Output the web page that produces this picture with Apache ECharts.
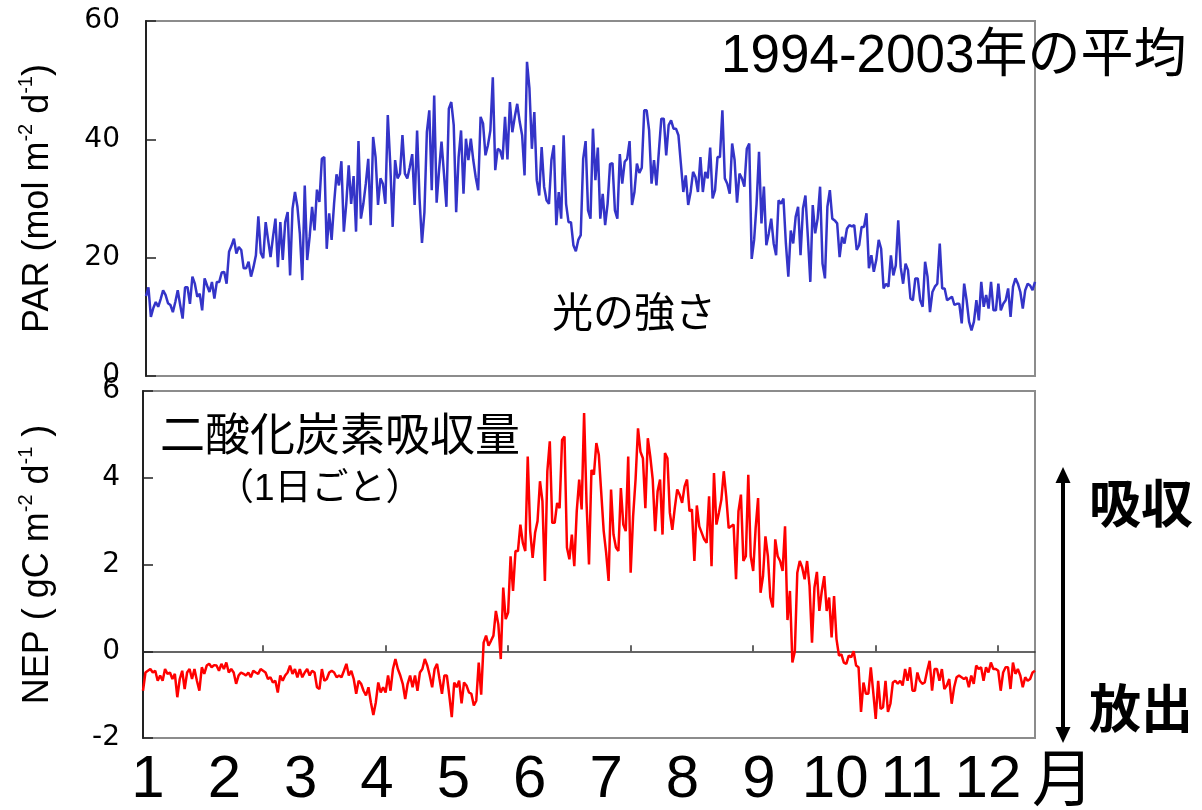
<!DOCTYPE html>
<html>
<head>
<meta charset="utf-8">
<script src="https://cdn.jsdelivr.net/npm/echarts@6/dist/echarts.min.js"></script>
<style>
  html, body { margin: 0; padding: 0; background: #fff; }
  #chart { width: 1202px; height: 810px; }
</style>
</head>
<body>
<div id="chart"></div>
<script>
// Daily photosynthetically active radiation, mean of 1994-2003 (mol m-2 d-1), day 1..365
const parDaily = [
  13.5, 15.0, 10.0, 11.5, 12.5, 11.7, 13.0, 14.5, 13.7, 12.3,
  12.0, 10.8, 12.5, 14.5, 12.0, 9.7, 15.0, 15.0, 12.2, 16.8,
  15.6, 13.4, 13.9, 11.1, 16.5, 15.3, 14.2, 15.9, 13.1, 15.9,
  15.9, 17.5, 17.6, 15.6, 21.0, 22.0, 23.2, 20.7, 21.8, 21.3,
  18.2, 18.2, 19.3, 16.8, 18.4, 20.4, 27.0, 20.8, 19.9, 26.0,
  23.0, 20.1, 23.5, 26.6, 18.4, 26.0, 19.6, 26.0, 27.7, 17.0,
  28.3, 31.1, 28.6, 24.0, 16.2, 32.2, 19.6, 23.5, 28.6, 24.6,
  31.5, 29.4, 36.7, 37.0, 21.5, 27.5, 23.0, 29.1, 34.1, 32.2,
  36.3, 24.4, 29.1, 35.6, 29.1, 33.8, 24.4, 39.7, 26.6, 29.1,
  32.5, 36.7, 25.5, 40.4, 37.0, 28.9, 33.4, 32.5, 29.1, 44.1,
  35.9, 25.2, 36.5, 33.4, 34.2, 40.7, 34.2, 33.4, 35.3, 37.5,
  28.9, 41.5, 30.0, 22.5, 27.7, 41.2, 44.9, 31.4, 47.4, 29.3,
  34.8, 39.6, 34.2, 28.6, 45.2, 46.3, 42.4, 27.7, 37.0, 41.5,
  30.8, 40.1, 36.5, 40.1, 36.5, 33.6, 31.4, 43.8, 42.7, 37.3,
  39.0, 41.5, 50.5, 34.8, 38.4, 38.1, 36.6, 43.8, 36.6, 46.3,
  41.2, 43.8, 46.0, 43.0, 40.7, 33.9, 53.1, 48.6, 38.4, 44.6,
  33.1, 30.5, 38.7, 32.0, 29.7, 29.1, 36.5, 39.0, 25.5, 31.1,
  26.6, 40.7, 29.1, 26.0, 26.0, 22.1, 21.1, 23.0, 23.8, 36.7,
  39.7, 28.0, 26.6, 41.8, 33.1, 38.6, 26.6, 30.8, 25.5, 29.1,
  35.8, 36.0, 28.0, 26.6, 37.5, 32.5, 36.2, 36.7, 39.7, 28.9,
  31.1, 35.9, 34.3, 35.2, 44.9, 44.9, 41.5, 32.5, 36.5, 32.2,
  38.0, 43.5, 43.5, 37.3, 42.4, 43.2, 41.8, 41.8, 40.7, 35.9,
  31.1, 33.9, 28.9, 31.1, 34.5, 33.6, 31.1, 37.0, 31.1, 34.5,
  33.4, 38.6, 30.0, 31.4, 37.0, 37.0, 44.9, 33.4, 32.5, 30.8,
  39.3, 36.5, 29.3, 34.2, 33.4, 32.0, 38.4, 39.3, 19.8, 23.0,
  29.1, 37.9, 25.8, 32.0, 22.1, 24.1, 26.6, 22.4, 20.4, 29.7,
  29.1, 30.0, 22.4, 16.8, 24.6, 22.4, 26.9, 28.6, 20.4, 28.3,
  30.5, 23.5, 15.9, 28.9, 24.1, 26.6, 32.0, 19.0, 16.5, 28.6,
  31.4, 26.6, 26.3, 25.8, 20.1, 23.5, 22.4, 24.9, 25.5, 25.3,
  25.5, 21.3, 22.1, 25.2, 25.2, 27.5, 18.2, 20.4, 17.6, 19.6,
  23.0, 21.5, 14.8, 15.6, 15.1, 20.4, 17.0, 18.7, 26.3, 18.4,
  15.6, 19.0, 17.9, 13.1, 12.8, 16.5, 16.5, 12.8, 11.7, 19.3,
  16.8, 10.8, 14.2, 15.1, 15.6, 22.4, 14.8, 14.8, 12.8, 13.1,
  13.4, 12.0, 12.2, 12.2, 8.9, 15.6, 12.8, 9.2, 7.7, 9.2,
  12.8, 9.4, 15.9, 11.7, 13.7, 11.4, 15.9, 11.1, 11.1, 15.6,
  11.1, 12.2, 12.8, 14.8, 10.0, 15.1, 16.5, 15.6, 14.2, 11.4,
  14.5, 15.6, 15.3, 14.5, 15.9
];

// Daily net ecosystem production (gC m-2 d-1), day 1..365
const nepDaily = [
  -0.91, -0.49, -0.45, -0.41, -0.49, -0.45, -0.68, -0.56, -0.68, -0.41,
  -0.52, -0.49, -0.64, -0.52, -1.06, -0.64, -0.45, -0.87, -0.49, -0.41,
  -0.64, -0.41, -0.68, -0.91, -0.37, -0.52, -0.33, -0.29, -0.37, -0.32,
  -0.33, -0.45, -0.29, -0.41, -0.26, -0.49, -0.41, -0.49, -0.75, -0.56,
  -0.49, -0.52, -0.56, -0.49, -0.60, -0.45, -0.49, -0.52, -0.41, -0.45,
  -0.49, -0.64, -0.60, -0.72, -0.68, -0.95, -0.56, -0.68, -0.56, -0.49,
  -0.33, -0.52, -0.41, -0.60, -0.41, -0.60, -0.49, -0.41, -0.56, -0.45,
  -0.49, -0.83, -0.87, -0.41, -0.68, -0.64, -0.49, -0.45, -0.49, -0.60,
  -0.56, -0.60, -0.45, -0.29, -0.56, -0.45, -0.64, -0.98, -0.68, -0.75,
  -0.91, -1.02, -0.83, -1.18, -1.47, -1.18, -0.72, -0.95, -0.83, -0.95,
  -0.56, -0.91, -0.41, -0.18, -0.41, -0.56, -0.75, -1.10, -0.75, -0.56,
  -0.83, -0.56, -0.91, -0.49, -0.41, -0.18, -0.33, -0.56, -0.83, -0.41,
  -0.29, -0.64, -0.98, -0.56, -0.56, -1.02, -1.52, -0.72, -0.83, -0.68,
  -1.20, -0.72, -0.79, -0.95, -0.98, -1.25, -1.14, -0.26, -1.00, 0.20,
  0.36, 0.13, 0.24, 0.36, 0.93, 0.62, -0.18, 1.47, 0.74, 0.89,
  2.19, 1.39, 2.31, 2.31, 2.92, 2.50, 2.31, 4.49, 2.77, 2.15,
  2.73, 3.00, 3.92, 3.46, 1.62, 4.15, 4.84, 2.96, 2.96, 3.42,
  3.30, 4.87, 4.95, 2.39, 2.12, 2.69, 1.96, 3.23, 3.96, 3.27,
  5.49, 3.42, 2.00, 4.18, 4.07, 4.80, 4.53, 3.65, 2.77, 2.27,
  1.62, 3.73, 2.69, 2.39, 2.31, 3.76, 2.92, 2.77, 4.49, 1.81,
  3.11, 3.96, 5.14, 4.60, 4.45, 3.30, 4.91, 4.49, 3.96, 2.77,
  3.69, 3.96, 2.69, 4.57, 4.45, 3.19, 2.80, 3.30, 3.73, 3.61,
  3.42, 3.80, 3.96, 3.23, 3.27, 2.08, 3.36, 2.88, 2.73, 2.58,
  2.50, 3.57, 1.96, 4.11, 2.92, 3.19, 3.49, 4.15, 3.57, 2.84,
  2.88, 2.92, 1.66, 3.23, 3.61, 2.08, 2.19, 4.07, 2.19, 1.85,
  2.84, 3.53, 1.35, 1.73, 2.65, 2.19, 1.24, 1.01, 2.58, 2.19,
  2.08, 1.85, 2.88, 0.72, 1.39, -0.26, 0.00, 1.81, 2.08, 1.93,
  1.66, 2.08, 1.50, 0.20, 1.47, 1.83, 0.93, 1.39, 1.73, 0.93,
  1.24, 0.32, 1.27, 0.28, -0.10, -0.07, -0.26, -0.29, -0.10, -0.14,
  0.00, -0.33, -0.37, -1.40, -0.72, -0.98, -0.98, -0.37, -0.95, -1.56,
  -0.68, -1.33, -1.29, -0.68, -1.40, -1.21, -0.72, -0.68, -0.75, -0.68,
  -0.79, -0.41, -0.68, -0.37, -0.91, -0.91, -0.49, -0.68, -0.75, -0.72,
  -0.45, -0.22, -0.91, -0.41, -0.41, -0.68, -0.41, -0.87, -0.79, -0.64,
  -1.21, -0.83, -0.60, -0.56, -0.60, -0.64, -0.60, -0.83, -0.56, -0.75,
  -0.33, -0.41, -0.37, -0.68, -0.37, -0.49, -0.26, -0.41, -0.41, -0.45,
  -0.91, -0.49, -0.37, -0.37, -0.87, -0.26, -0.52, -0.41, -0.56, -0.83,
  -0.60, -0.68, -0.64, -0.49, -0.45
];

// Month captions under the lower panel and tick positions (day of year)
const monthLabels = ['1', '2', '3', '4', '5', '6', '7', '8', '9', '10', '11', '12'];
const monthSlots = [1, 2, 3, 4, 5, 6, 7, 8, 9, 10, 11, 12];
const dayTicks = [50, 100, 150, 200, 250, 300, 350];

const LATIN = "'Liberation Sans', Arial, 'Noto Sans CJK JP', sans-serif";
const JP = "'Noto Sans CJK JP', 'Liberation Sans', sans-serif";
const TICKFONT = "'DejaVu Sans', Verdana, sans-serif";

const byDay = arr => arr.map((v, i) => [i + 1, v]);

const chart = echarts.init(document.getElementById('chart'), null, { renderer: 'canvas' });

const nameStyle = {
  fontSize: 36,
  fontFamily: LATIN,
  color: '#000',
  lineHeight: 44,
  rich: {
    s: { fontSize: 20, fontFamily: LATIN, color: '#000', verticalAlign: 'top', lineHeight: 44 }
  }
};

function jpText(text, x, y, size, weight) {
  return {
    type: 'text',
    x: x,
    y: y,
    z: 100,
    style: {
      text: text,
      fontSize: size,
      fontFamily: JP,
      fontWeight: weight || 'normal',
      fill: '#000',
      align: 'left',
      verticalAlign: 'middle',
      textAlign: 'left',
      textVerticalAlign: 'middle'
    }
  };
}

const option = {
  animation: false,
  backgroundColor: '#fff',
  grid: [
    { left: 146, top: 21, width: 889, height: 355, show: true, borderColor: '#8c8c8c', borderWidth: 2 },
    { left: 143, top: 391, width: 892, height: 348, show: true, borderColor: '#8c8c8c', borderWidth: 2 }
  ],
  xAxis: [
    { gridIndex: 0, type: 'value', min: 1, max: 365, show: false },
    {
      gridIndex: 1, type: 'value', min: 1, max: 365, position: 'bottom',
      axisLine: { show: true, onZero: true, lineStyle: { color: '#333', width: 1.5 } },
      axisTick: { show: true, inside: true, length: 6, customValues: dayTicks, lineStyle: { color: '#333', width: 1.5 } },
      axisLabel: { show: false },
      splitLine: { show: false }
    },
    {
      gridIndex: 1, type: 'value', min: 0.935, max: 12.616, position: 'bottom',
      axisLine: { show: false, onZero: false },
      axisTick: { show: false },
      splitLine: { show: false },
      axisLabel: {
        customValues: monthSlots,
        formatter: v => monthLabels[Math.round(v) - 1],
        fontSize: 60,
        fontFamily: LATIN,
        color: '#000',
        margin: 42,
        verticalAlign: 'middle',
        hideOverlap: false,
        showMinLabel: true,
        showMaxLabel: true
      }
    }
  ],
  yAxis: [
    {
      gridIndex: 0, type: 'value', min: 0, max: 60, interval: 20,
      axisLine: { show: true, lineStyle: { color: '#222', width: 2 } },
      axisTick: { show: true, inside: true, length: 10, lineStyle: { color: '#222', width: 1.5 } },
      axisLabel: { fontSize: 28, fontFamily: TICKFONT, color: '#000', margin: 26 },
      splitLine: { show: false },
      name: 'PAR (mol m{s|-2} d{s|-1})',
      nameLocation: 'middle',
      nameRotate: 90,
      nameGap: 86,
      nameTextStyle: nameStyle
    },
    {
      gridIndex: 1, type: 'value', min: -2, max: 6, interval: 2,
      axisLine: { show: true, onZero: false, lineStyle: { color: '#222', width: 2 } },
      axisTick: { show: true, inside: true, length: 10, lineStyle: { color: '#222', width: 1.5 } },
      axisLabel: { fontSize: 28, fontFamily: TICKFONT, color: '#000', margin: 23 },
      splitLine: { show: false },
      name: 'NEP ( gC m{s|-2} d{s|-1} )',
      nameLocation: 'middle',
      nameRotate: 90,
      nameGap: 83,
      nameTextStyle: nameStyle
    }
  ],
  series: [
    {
      name: 'PAR', type: 'line', xAxisIndex: 0, yAxisIndex: 0,
      data: byDay(parDaily), showSymbol: false, symbol: 'none',
      lineStyle: { color: '#3434C8', width: 2.5 }, itemStyle: { color: '#3434C8' }
    },
    {
      name: 'NEP', type: 'line', xAxisIndex: 1, yAxisIndex: 1,
      data: byDay(nepDaily), showSymbol: false, symbol: 'none',
      lineStyle: { color: '#FF0000', width: 2.5 }, itemStyle: { color: '#FF0000' }
    }
  ],
  graphic: [
    {
      type: 'text', x: 721, y: 57, z: 100,
      style: {
        text: '1994-2003年の平均', fontSize: 53, fontFamily: LATIN, fill: '#000',
        align: 'left', verticalAlign: 'middle', textAlign: 'left', textVerticalAlign: 'middle'
      }
    },
    jpText('光の強さ', 552, 311, 41),
    jpText('二酸化炭素吸収量', 160, 434, 45),
    {
      type: 'text', x: 217, y: 490, z: 100,
      style: {
        text: '（1日ごと）', fontSize: 37, fontFamily: LATIN, fill: '#000',
        align: 'left', verticalAlign: 'middle', textAlign: 'left', textVerticalAlign: 'middle'
      }
    },
    jpText('吸収', 1089, 503, 52, 'bold'),
    jpText('放出', 1089, 708, 52, 'bold'),
    jpText('月', 1032, 777, 62),
    {
      type: 'line', z: 100,
      shape: { x1: 1063, y1: 478, x2: 1063, y2: 731 },
      style: { stroke: '#000', lineWidth: 4 }
    },
    {
      type: 'polygon', z: 100,
      shape: { points: [[1063, 467], [1055.5, 483], [1070.5, 483]] },
      style: { fill: '#000' }
    },
    {
      type: 'polygon', z: 100,
      shape: { points: [[1063, 743], [1055.5, 727], [1070.5, 727]] },
      style: { fill: '#000' }
    }
  ]
};

chart.setOption(option);
</script>
</body>
</html>
